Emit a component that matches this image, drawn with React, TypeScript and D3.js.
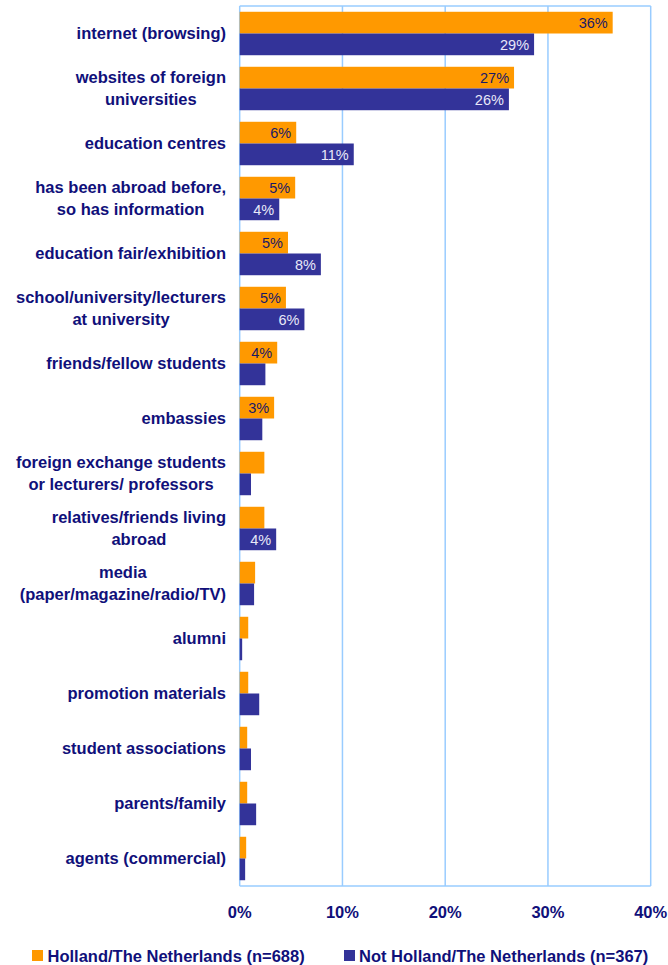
import React from "react";
import * as d3 from "d3";

const categories: string[][] = [
  ["internet (browsing)"],
  ["websites of foreign", "universities"],
  ["education centres"],
  ["has been abroad before,", "so has information"],
  ["education fair/exhibition"],
  ["school/university/lecturers", "at university"],
  ["friends/fellow students"],
  ["embassies"],
  ["foreign exchange students", "or lecturers/ professors"],
  ["relatives/friends living", "abroad"],
  ["media", "(paper/magazine/radio/TV)"],
  ["alumni"],
  ["promotion materials"],
  ["student associations"],
  ["parents/family"],
  ["agents (commercial)"],
];

const hollandValues = [36.3, 26.7, 5.5, 5.4, 4.7, 4.5, 3.65, 3.35, 2.4, 2.4, 1.5, 0.83, 0.83, 0.73, 0.73, 0.63];
const notHollandValues = [28.65, 26.2, 11.1, 3.85, 7.9, 6.3, 2.5, 2.2, 1.1, 3.55, 1.4, 0.24, 1.9, 1.1, 1.6, 0.53];
const hollandLabels: (string | null)[] = ["36%", "27%", "6%", "5%", "5%", "5%", "4%", "3%", null, null, null, null, null, null, null, null];
const notHollandLabels: (string | null)[] = ["29%", "26%", "11%", "4%", "8%", "6%", null, null, null, "4%", null, null, null, null, null, null];
const tickValues = [0, 10, 20, 30, 40];
const seriesNames = ["Holland/The Netherlands (n=688)", "Not Holland/The Netherlands (n=367)"];

const ORANGE = "#FF9900";
const BLUE = "#333399";
const NAVY = "#10107a";
const GRID = "#99CCFF";
const FONT = "'Liberation Sans', Arial, Helvetica, sans-serif";
const LABEL_SIZE = 16.5;

let ctx: CanvasRenderingContext2D | null = null;
function measure(text: string, font: string): number {
  if (!ctx) ctx = document.createElement("canvas").getContext("2d");
  if (!ctx) return text.length * 9;
  ctx.font = font;
  return ctx.measureText(text).width;
}

export default function App() {
  const width = 668;
  const height = 965;
  const left = 239.7;
  const right = 650.7;
  const top = 6;
  const bottom = 886;

  const x = d3.scaleLinear().domain([0, 40]).range([left, right]);
  const y = d3
    .scaleBand<number>()
    .domain(d3.range(categories.length))
    .range([top, bottom])
    .paddingInner(0.21)
    .paddingOuter(0.105);
  const bh = y.bandwidth() / 2;

  const labelFont = `bold ${LABEL_SIZE}px ${FONT}`;

  return (
    <svg width={width} height={height} style={{ position: "absolute", left: 0, top: 0 }}>
      <rect x={0} y={0} width={width} height={height} fill="#fff" />
      {/* gridlines */}
      {tickValues.map((t) => (
        <line key={t} x1={x(t)} x2={x(t)} y1={top} y2={bottom} stroke={GRID} strokeWidth={1.5} />
      ))}
      <line x1={left} x2={right} y1={top} y2={top} stroke={GRID} strokeWidth={1.5} />
      <line x1={left} x2={right} y1={bottom} y2={bottom} stroke={GRID} strokeWidth={1.5} />

      {/* bars */}
      {categories.map((_, i) => {
        const y0 = y(i)!;
        return (
          <g key={i}>
            <rect x={x(0)} y={y0} width={x(hollandValues[i]) - x(0)} height={bh} fill={ORANGE} />
            <rect x={x(0)} y={y0 + bh} width={x(notHollandValues[i]) - x(0)} height={bh} fill={BLUE} />
            {hollandLabels[i] && (
              <text
                x={x(hollandValues[i]) - 5}
                y={y0 + bh / 2}
                dy="0.36em"
                textAnchor="end"
                fontFamily={FONT}
                fontSize={14.5}
                fill="#1a1a66"
              >
                {hollandLabels[i]}
              </text>
            )}
            {notHollandLabels[i] && (
              <text
                x={x(notHollandValues[i]) - 5}
                y={y0 + bh * 1.5}
                dy="0.36em"
                textAnchor="end"
                fontFamily={FONT}
                fontSize={14.5}
                fill="#e8e8f8"
              >
                {notHollandLabels[i]}
              </text>
            )}
          </g>
        );
      })}

      {/* category labels */}
      {categories.map((lines, i) => {
        const cy = y(i)! + y.bandwidth() / 2;
        const maxW = Math.max(...lines.map((l) => measure(l, labelFont)));
        const cx = 226 - maxW / 2;
        const lh = 22;
        return (
          <text
            key={i}
            textAnchor="middle"
            fontFamily={FONT}
            fontWeight="bold"
            fontSize={LABEL_SIZE}
            fill={NAVY}
          >
            {lines.map((l, j) => (
              <tspan key={j} x={cx} y={cy + (j - (lines.length - 1) / 2) * lh} dy="0.35em">
                {l}
              </tspan>
            ))}
          </text>
        );
      })}

      {/* x tick labels */}
      {tickValues.map((t) => (
        <text
          key={t}
          x={x(t)}
          y={912}
          dy="0.35em"
          textAnchor="middle"
          fontFamily={FONT}
          fontWeight="bold"
          fontSize={16.5}
          fill={NAVY}
        >
          {t}%
        </text>
      ))}

      {/* legend */}
      <rect x={32} y={950} width={11} height={11} fill={ORANGE} />
      <text x={47.5} y={956} dy="0.35em" fontFamily={FONT} fontWeight="bold" fontSize={16.5} fill={NAVY}>
        {seriesNames[0]}
      </text>
      <rect x={344} y={950} width={11} height={11} fill={BLUE} />
      <text x={359} y={956} dy="0.35em" fontFamily={FONT} fontWeight="bold" fontSize={16.5} fill={NAVY}>
        {seriesNames[1]}
      </text>
    </svg>
  );
}
